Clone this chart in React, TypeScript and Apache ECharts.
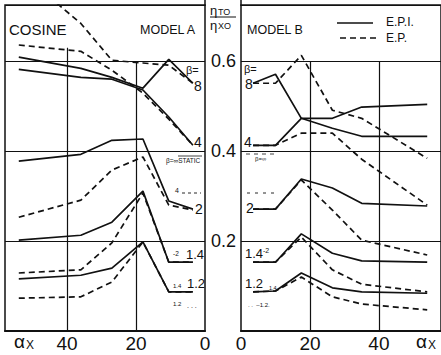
import React, { useEffect, useRef } from "react";
import * as echarts from "echarts";

// α_x positions (degrees) of the plotted vertices
const alphaA = [54, 36, 27, 18, 10.5, 3.5];
const alphaB = [3.5, 10, 17.5, 26.5, 35, 54];

// MODEL A  (η_TO / η_XO)
const epiA8 = [0.609, 0.584, 0.564, 0.54, 0.604, 0.551];
const epA8 = [0.8, 0.684, 0.602, 0.596, 0.591, 0.551];
const epiA4 = [0.582, 0.564, 0.56, 0.536, 0.476, 0.413];
const epA4 = [0.636, 0.622, 0.58, 0.529, 0.471, 0.413];
const epiAStatic = [0.378, 0.393, 0.424, 0.427, 0.289, 0.271];
const epA2 = [0.253, 0.291, 0.358, 0.387, 0.28, 0.269];
const epiA14 = [0.202, 0.213, 0.242, 0.311, 0.153, 0.153];
const epA14 = [0.129, 0.136, 0.196, 0.307, 0.153, 0.153];
const epiA12 = [0.116, 0.124, 0.14, 0.198, 0.087, 0.087];
const epA12 = [0.073, 0.076, 0.109, 0.198, 0.087, 0.087];

// MODEL B
const epiB8 = [0.551, 0.571, 0.473, 0.451, 0.433, 0.433];
const epB8 = [0.551, 0.551, 0.613, 0.491, 0.473, 0.384];
const epiB4 = [0.413, 0.413, 0.473, 0.473, 0.498, 0.504];
const epB4 = [0.413, 0.413, 0.44, 0.44, 0.382, 0.28];
const epiB2 = [0.271, 0.271, 0.338, 0.318, 0.284, 0.278];
const epB2 = [0.271, 0.271, 0.336, 0.269, 0.202, 0.169];
const epiB14 = [0.153, 0.153, 0.216, 0.173, 0.156, 0.153];
const epB14 = [0.153, 0.153, 0.209, 0.136, 0.104, 0.087];
const epiB12 = [0.087, 0.089, 0.129, 0.096, 0.087, 0.084];
const epB12 = [0.087, 0.089, 0.12, 0.076, 0.06, 0.047];

const xTicks = [0, 20, 40];
const yTicks = [0.2, 0.4, 0.6];
// vertical grid lines: [α, top value they reach]
const vLinesA: [number, number][] = [[20, 0.6], [40, 0.63]];
const vLinesB: [number, number][] = [[20, 0.6], [40, 0.6]];

const INK = "#111";
const FONT = "'Liberation Sans', Arial, sans-serif";

function mk(name: string, alpha: number[], vals: number[], dashed: boolean, g: number, vlines?: [number, number][]) {
  const s: any = {
    name,
    type: "line",
    xAxisIndex: g,
    yAxisIndex: g,
    data: alpha.map((a, i) => [a, vals[i]]),
    symbol: "none",
    clip: true,
    silent: true,
    lineStyle: { color: INK, width: 1.7, type: dashed ? [6, 4] : "solid" },
    z: 3,
  };
  if (vlines) {
    s.markLine = {
      silent: true,
      symbol: "none",
      label: { show: false },
      lineStyle: { color: INK, width: 1.2, type: "solid" },
      data: vlines.map(([a, top]) => [{ coord: [a, 0] }, { coord: [a, top] }]),
    };
  }
  return s;
}

function txt(x: number, y: number, text: string, size: number, align = "left") {
  return {
    type: "text",
    x,
    y,
    silent: true,
    z: 10,
    style: { text, fontSize: size, fontFamily: FONT, fill: INK, align, verticalAlign: "middle" },
  };
}

function ln(x1: number, y1: number, x2: number, y2: number, dash?: number[], w = 1.5) {
  return {
    type: "line",
    silent: true,
    z: 10,
    shape: { x1, y1, x2, y2 },
    style: { stroke: INK, lineWidth: w, lineDash: dash || null },
  };
}

export default function App() {
  const ref = useRef<HTMLDivElement>(null);
  useEffect(() => {
    if (!ref.current) return;
    const chart = echarts.init(ref.current, null, { renderer: "svg" });
    const xAxisCommon = {
      type: "value",
      min: 0,
      max: 58,
      interval: 20,
      axisLine: { show: true, lineStyle: { color: INK, width: 2 } },
      axisTick: { show: false },
      axisLabel: {
        color: INK,
        fontSize: 19,
        fontFamily: FONT,
        margin: 3,
        showMaxLabel: false,
        formatter: (v: number) => (xTicks.includes(v) ? String(v) : ""),
      },
      splitLine: { show: false },
    };
    const yAxisCommon = {
      type: "value",
      min: 0,
      max: 0.725,
      interval: 0.2,
      axisLine: { show: false },
      axisTick: { show: false },
      splitLine: { show: true, lineStyle: { color: INK, width: 1.2 } },
    };
    const option = {
      animation: false,
      backgroundColor: "#fff",
      grid: [
        { left: 5, top: 5, width: 200, height: 326, show: true, borderColor: INK, borderWidth: 1.5 },
        { left: 241, top: 5, width: 204, height: 326, show: true, borderColor: INK, borderWidth: 1.5 },
      ],
      xAxis: [
        { ...xAxisCommon, gridIndex: 0, inverse: true },
        { ...xAxisCommon, gridIndex: 1 },
      ],
      yAxis: [
        { ...yAxisCommon, gridIndex: 0, axisLabel: { show: false } },
        {
          ...yAxisCommon,
          gridIndex: 1,
          axisLabel: {
            show: true,
            color: INK,
            fontSize: 18,
            fontFamily: FONT,
            margin: 5,
            showMinLabel: false,
            showMaxLabel: false,
            formatter: (v: number) => (yTicks.some((t) => Math.abs(t - v) < 1e-6) ? v.toFixed(1) : ""),
          },
        },
      ],
      series: [
        mk("A E.P.I. β=8", alphaA, epiA8, false, 0, vLinesA),
        mk("A E.P. β=8", alphaA, epA8, true, 0),
        mk("A E.P.I. β=4", alphaA, epiA4, false, 0),
        mk("A E.P. β=4", alphaA, epA4, true, 0),
        mk("A E.P.I. static", alphaA, epiAStatic, false, 0),
        mk("A E.P. β=2", alphaA, epA2, true, 0),
        mk("A E.P.I. β=1.4", alphaA, epiA14, false, 0),
        mk("A E.P. β=1.4", alphaA, epA14, true, 0),
        mk("A E.P.I. β=1.2", alphaA, epiA12, false, 0),
        mk("A E.P. β=1.2", alphaA, epA12, true, 0),
        mk("B E.P.I. β=8", alphaB, epiB8, false, 1, vLinesB),
        mk("B E.P. β=8", alphaB, epB8, true, 1),
        mk("B E.P.I. β=4", alphaB, epiB4, false, 1),
        mk("B E.P. β=4", alphaB, epB4, true, 1),
        mk("B E.P.I. β=2", alphaB, epiB2, false, 1),
        mk("B E.P. β=2", alphaB, epB2, true, 1),
        mk("B E.P.I. β=1.4", alphaB, epiB14, false, 1),
        mk("B E.P. β=1.4", alphaB, epB14, true, 1),
        mk("B E.P.I. β=1.2", alphaB, epiB12, false, 1),
        mk("B E.P. β=1.2", alphaB, epB12, true, 1),
      ],
      graphic: [
        // centre column top
        ln(205, 0, 205, 6, undefined, 1.5),
        ln(241, 0, 241, 6, undefined, 1.5),
        txt(210, 10, "η", 13),
        txt(218, 12, "TO", 9),
        ln(210, 17, 236, 17, undefined, 1),
        txt(210, 25, "η", 13),
        txt(218, 26, "XO", 9),
        // titles
        txt(9, 29, "COSINE", 15),
        txt(140, 30, "MODEL A", 12.5),
        txt(247, 30, "MODEL B", 12.5),
        // legend
        ln(337, 23, 373, 23, undefined, 1.6),
        txt(386, 22, "E.P.I.", 12),
        ln(340, 38, 376, 38, [6, 4], 1.6),
        txt(386, 38, "E.P.", 12),
        // model A curve labels
        txt(186, 70, "β=", 11),
        txt(198, 86, "8", 14, "center"),
        txt(198, 142, "4", 14, "center"),
        ln(178, 156, 202, 156, undefined, 0.8),
        txt(166, 160, "β=∞STATIC", 6.5),
        txt(175, 190, "4", 7),
        ln(182, 193, 201, 193, [3, 3], 0.9),
        txt(199, 209, "2", 14, "center"),
        txt(173, 253, "-2", 6.5),
        txt(195, 254, "1.4", 13, "center"),
        txt(173, 286, "1.4", 6),
        txt(196, 283, "1.2", 13, "center"),
        txt(173, 304, "1.2", 6),
        txt(187, 305, ". . .", 7),
        // model B curve labels
        txt(244, 69, "β=", 11),
        txt(249, 84, "8", 14, "center"),
        txt(248, 142, "4", 14, "center"),
        ln(246, 154, 276, 154, [4, 4], 0.8),
        txt(255, 159, "β=∞", 6),
        ln(247, 193, 277, 193, [3, 5], 0.9),
        txt(250, 208, "2", 14, "center"),
        txt(254, 253, "1.4", 13, "center"),
        txt(263, 250, "-2", 7),
        txt(254, 283, "1.2", 13, "center"),
        txt(269, 288, "1.4", 5.5),
        txt(248, 305, ". .  –1.2.", 6),
        // α_x labels
        txt(14, 341, "α", 19),
        txt(26, 345, "X", 12),
        txt(416, 341, "α", 19),
        txt(428, 345, "X", 12),
      ],
    };
    chart.setOption(option as any);
    return () => chart.dispose();
  }, []);
  return (
    <div
      ref={ref}
      style={{ position: "fixed", left: 0, top: 0, width: 441, height: 355, background: "#fff" }}
    />
  );
}
